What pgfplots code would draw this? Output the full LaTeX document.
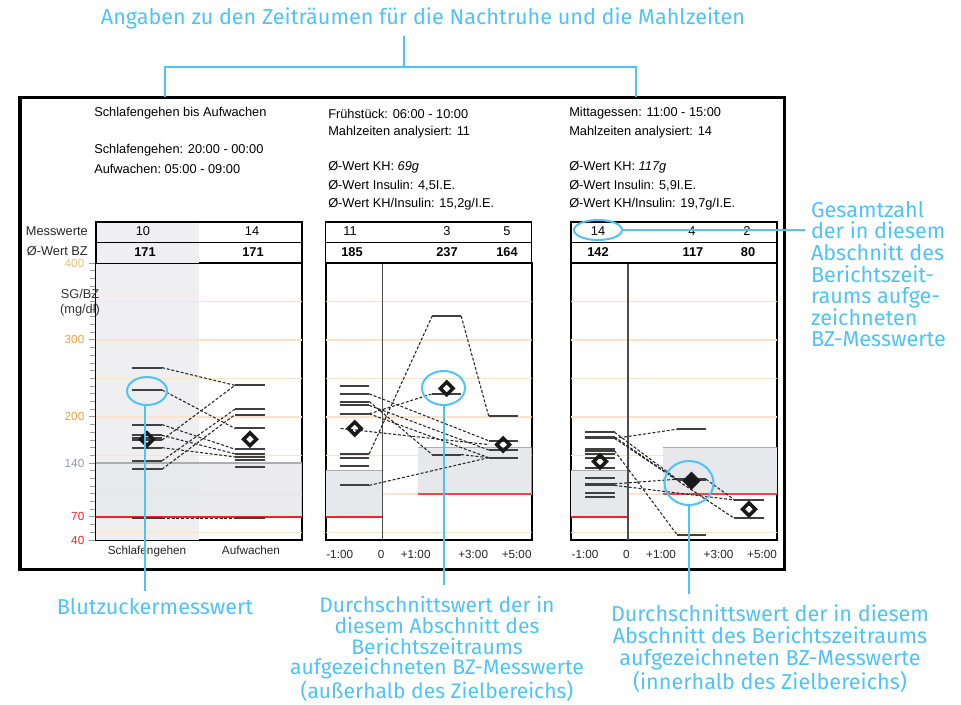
\documentclass[border=0pt]{standalone}
\usepackage{pgfplots}
\pgfplotsset{compat=1.18}
\usepackage{fontspec}
\setmainfont{Liberation Sans}
\newfontfamily\notefont{Fira Sans}

\definecolor{note}{HTML}{4FC3F7}
\definecolor{gridor}{HTML}{FAE3CA}
\definecolor{tickor}{HTML}{E9A23B}
\definecolor{tickgray}{HTML}{8E98AA}
\definecolor{lowred}{HTML}{F52222}
\definecolor{band}{HTML}{E7E8EB}
\definecolor{colshade}{HTML}{EFEFF2}
\definecolor{seg}{HTML}{404040}
\definecolor{bandtop}{HTML}{ADADAD}

\pgfplotsset{
  panel/.style={
    scale only axis, width=154.5pt, height=207.75pt,
    xmin=0, xmax=206, ymin=40, ymax=400,
    anchor=south west,
    axis line style={line width=1.5pt, draw=black},
    xtick pos=bottom, ytick pos=left,
    xtick style={draw=none},
    ticklabel style={font=\fontsize{8.8}{10}\selectfont, text=black!85},
  },
  measure/.style={only marks, mark=-, mark size=10.9pt,
    mark options={line width=1.5pt, draw=seg}},
  trend/.style={no marks, draw=black!85, line width=0.8pt,
    dash pattern=on 2.2pt off 1.4pt},
  avgout/.style={only marks, mark=square, mark size=3.4pt,
    mark options={rotate=45, line width=2.6pt, draw=black!90, fill=white}},
  avgin/.style={only marks, mark=square*, mark size=4.6pt,
    mark options={rotate=45, draw=black!90, fill=black!90}},
  gridthin/.style={no marks, draw=gridor, line width=0.8pt},
  gridthick/.style={no marks, draw=gridor, line width=1.5pt},
}
% dashed connection between two readings of the same day
\newcommand{\trend}[4]{\addplot[trend] coordinates {(#1,#2) (#3,#4)};}
% light orange reference lines every 50 mg/dl
\newcommand{\guides}{%
  \addplot[gridthin] coordinates {(0,50) (206,50)};
  \addplot[gridthick] coordinates {(0,100) (206,100)};
  \addplot[gridthin] coordinates {(0,150) (206,150)};
  \addplot[gridthick] coordinates {(0,200) (206,200)};
  \addplot[gridthin] coordinates {(0,250) (206,250)};
  \addplot[gridthick] coordinates {(0,300) (206,300)};
  \addplot[gridthin] coordinates {(0,350) (206,350)};
}
% meal panels: target 70-130 before, 100-160 after the meal
\newcommand{\mealtargets}{%
  \addplot[fill=band, draw=none] coordinates {(0,70) (57,70) (57,130) (0,130)};
  \addplot[no marks, draw=bandtop, line width=0.9pt] coordinates {(0,130) (57,130)};
  \addplot[no marks, draw=lowred, line width=1pt] coordinates {(0,70) (57,70)};
  \addplot[fill=band, draw=none] coordinates {(92,100) (206,100) (206,160) (92,160)};
  \addplot[no marks, draw=bandtop, line width=1.1pt] coordinates {(92,160) (206,160)};
  \addplot[no marks, draw=lowred!85, line width=1.4pt] coordinates {(92,100) (206,100)};
  \addplot[no marks, draw=black!70, line width=0.9pt] coordinates {(57,40) (57,400)};
}

\begin{document}
\begin{tikzpicture}
\begin{scope}[x=0.75pt, y=-0.75pt]
  \useasboundingbox (0,0) rectangle (961,704);
  \coordinate (P1) at (96,540);
  \coordinate (P2) at (325.7,540);
  \coordinate (P3) at (571,540);
\end{scope}

% ---------------- Schlafengehen / Aufwachen ----------------
\begin{axis}[panel, at={(P1)},
  ytick={40,70,140,200,300,400},
  yticklabels={{\color{lowred}40},{\color{lowred}70},{\color{tickgray}140},{\color{tickor}200},{\color{tickor}300},{\color{tickor!70}400}},
  minor ytick={50,60,...,390},
  tick align=outside,
  major tick length=5.25pt, minor tick length=4.5pt,
  ytick style={draw=black!40, line width=0.7pt},
  minor tick style={draw=black!40, line width=0.7pt},
  xtick={51,155}, xticklabels={Schlafengehen,Aufwachen},
  xticklabel style={yshift=4pt},
]
  \addplot[fill=colshade, draw=none] coordinates {(0,40) (103,40) (103,400) (0,400)};
  \guides
  \addplot[fill=band, draw=none, fill opacity=0.85] coordinates {(0,70) (206,70) (206,140) (0,140)};
  \addplot[no marks, draw=bandtop, line width=1.3pt] coordinates {(0,140) (206,140)};
  \addplot[no marks, draw=lowred, line width=1.1pt] coordinates {(0,70) (206,70)};

  \trend{66}{264}{139}{241}
  \trend{66}{235}{139}{185}
  \trend{66}{190}{139}{158}
  \trend{66}{176}{139}{152}
  \trend{66}{170}{139}{241}
  \trend{66}{160}{139}{148}
  \trend{66}{143}{139}{210}
  \trend{66}{132}{139}{203}
  \trend{66}{68}{139}{68}

  % Schlafengehen: 10 readings
  \addplot[measure] coordinates {(51,264) (51,235) (51,190) (51,176) (51,172)
    (51,170) (51,160) (51,143) (51,132) (51,68)};
  % Aufwachen: 14 readings
  \addplot[measure] coordinates {(154,241) (154,241) (154,241) (154,210) (154,203)
    (154,203) (154,185) (154,158) (154,152) (154,148) (154,144) (154,135) (154,68) (154,68)};
  \addplot[avgout] coordinates {(51,171) (154,171)};
\end{axis}

% ---------------- Fruehstueck ----------------
\begin{axis}[panel, at={(P2)}, ytick=\empty,
  xtick={14,55.5,90,147.5,191}, xticklabels={-1:00,0,+1:00,+3:00,+5:00},
  xticklabel style={yshift=-4.5pt},
]
  \guides
  \mealtargets

  \trend{43.5}{152}{106.5}{331}
  \trend{135.5}{331}{163}{201}
  \trend{43.5}{111}{163}{147}
  \trend{43.5}{230}{163}{169}
  \trend{43.5}{220}{106.5}{151}
  \trend{43.5}{215}{163}{157}
  \trend{43.5}{204}{106.5}{230}
  \trend{43.5}{204}{163}{147}
  \trend{15}{185}{163}{164}
  \trend{135.5}{151}{163}{147}

  \addplot[measure] coordinates {(29,240) (29,230) (29,220) (29,215) (29,204)
    (29,204) (29,152) (29,146) (29,136) (29,111)};
  \addplot[measure] coordinates {(121,331) (121,230) (121,151)};
  \addplot[measure] coordinates {(177.5,201) (177.5,169) (177.5,157) (177.5,147) (177.5,147)};
  \addplot[avgout] coordinates {(29,185) (121,237) (177.5,164)};
\end{axis}

% ---------------- Mittagessen ----------------
\begin{axis}[panel, at={(P3)}, ytick=\empty,
  xtick={14,55.5,90,147.5,191}, xticklabels={-1:00,0,+1:00,+3:00,+5:00},
  xticklabel style={yshift=-4.5pt},
]
  \guides
  \mealtargets

  \trend{43.5}{172}{106}{184}
  \trend{43.5}{180}{106}{119}
  \trend{43.5}{174}{106}{118}
  \trend{43.5}{156}{106}{47}
  \trend{43.5}{113}{106}{119}
  \trend{43.5}{111}{163.5}{92}
  \trend{43.5}{172}{163.5}{68}
  \trend{135}{119}{163.5}{92}

  \addplot[measure] coordinates {(29,180) (29,174) (29,172) (29,172) (29,158)
    (29,156) (29,152) (29,147) (29,134) (29,121) (29,113) (29,111) (29,101) (29,96)};
  \addplot[measure] coordinates {(120.5,184) (120.5,119) (120.5,118) (120.5,47)};
  \addplot[measure] coordinates {(178,92) (178,68)};
  \addplot[avgout] coordinates {(29,142) (178,80)};
  \addplot[avgin] coordinates {(120.5,117)};
\end{axis}

\begin{scope}[x=0.75pt, y=-0.75pt, font=\fontsize{9.6}{11}\selectfont]
  % outer frame
  \draw[line width=2.4pt] (20,97.5) rectangle (784.5,569.5);

  % summary tables
  \fill[colshade] (96,222) rectangle (199,263);
  \draw[line width=0.9pt] (96,222) rectangle (302,263.3);
  \draw[line width=0.9pt] (96,242.5) -- (302,242.5);
  \draw[line width=0.9pt] (325.7,222) rectangle (531.7,263.3);
  \draw[line width=0.9pt] (325.7,242.5) -- (531.7,242.5);
  \draw[line width=0.9pt] (571,222) rectangle (777,263.3);
  \draw[line width=0.9pt] (571,242.5) -- (777,242.5);

  \node[anchor=east, inner sep=0pt, text=black!85] at (88,231.5) {Messwerte};
  \node[anchor=east, inner sep=0pt, text=black!85] at (88,251.5) {Ø-Wert BZ};
  \node at (143,231.5) {10};
  \node at (252,231.5) {14};
  \node[font=\fontsize{9.6}{11}\selectfont\bfseries] at (145,252.5) {171};
  \node[font=\fontsize{9.6}{11}\selectfont\bfseries] at (253,252.5) {171};

  \node at (350,231.5) {11};
  \node at (447,231.5) {3};
  \node at (507,231.5) {5};
  \node[font=\fontsize{9.6}{11}\selectfont\bfseries] at (352,252.5) {185};
  \node[font=\fontsize{9.6}{11}\selectfont\bfseries] at (447,252.5) {237};
  \node[font=\fontsize{9.6}{11}\selectfont\bfseries] at (507,252.5) {164};

  \node at (598,231.5) {14};
  \node at (692,231.5) {4};
  \node at (747,231.5) {2};
  \node[font=\fontsize{9.6}{11}\selectfont\bfseries] at (598,252.5) {142};
  \node[font=\fontsize{9.6}{11}\selectfont\bfseries] at (693,252.5) {117};
  \node[font=\fontsize{9.6}{11}\selectfont\bfseries] at (748,252.5) {80};

  % axis title
  \node[text=black!80] at (80,294) {SG/BZ};
  \node[text=black!80] at (80,310) {(mg/dl)};

  % period headers
  \begin{scope}[every node/.style={anchor=west, inner sep=0pt}]
    \node at (94,113.5) {Schlafengehen bis Aufwachen};
    \node at (94,150) {Schlafengehen: 20:00 - 00:00};
    \node at (94,169) {Aufwachen:\ 05:00 - 09:00};

    \node at (328,113.5) {Frühstück: 06:00 - 10:00};
    \node at (328,132) {Mahlzeiten analysiert: 11};
    \node at (328,167.5) {Ø-Wert KH: \textit{69g}};
    \node at (328,186) {Ø-Wert Insulin: 4,5I.E.};
    \node at (328,204.5) {Ø-Wert KH/Insulin: 15,2g/I.E.};

    \node at (569,113.5) {Mittagessen: 11:00 - 15:00};
    \node at (569,132) {Mahlzeiten analysiert: 14};
    \node at (569,167.5) {Ø-Wert KH: \textit{117g}};
    \node at (569,186) {Ø-Wert Insulin: 5,9I.E.};
    \node at (569,204.5) {Ø-Wert KH/Insulin: 19,7g/I.E.};
  \end{scope}

  % explanatory callouts
  \begin{scope}[draw=note, line width=1.5pt, text=note,
      font=\notefont\fontsize{16.2}{16.2}\selectfont]
    \node at (423,18) {Angaben zu den Zeiträumen für die Nachtruhe und die Mahlzeiten};
    \draw (404,36) -- (404,67);
    \draw (165,97) -- (165,67) -- (636,67) -- (636,97);

    \draw (598,230) ellipse [x radius=24, y radius=10];
    \draw (622,230) -- (805,230);
    \node[anchor=north west, align=left, inner sep=0pt] at (810,200)
      {Gesamtzahl\\der in diesem\\Abschnitt des\\Berichtszeit-\\raums aufge-\\zeichneten\\BZ-Messwerte};

    \draw (147,391) ellipse [x radius=20, y radius=14];
    \draw (145,405) -- (145,591);
    \node at (155,607) {Blutzuckermesswert};

    \draw (443.5,388) ellipse [x radius=21.5, y radius=17];
    \draw (443.5,405) -- (443.5,585);
    \node[anchor=north, align=center, inner sep=0pt,
          font=\notefont\fontsize{15.8}{15.6}\selectfont] at (437,595)
      {Durchschnittswert der in\\diesem Abschnitt des\\Berichtszeitraums\\aufgezeichneten BZ-Messwerte\\(außerhalb des Zielbereichs)};

    \draw (689,483) ellipse [x radius=24.5, y radius=22];
    \draw (689,505) -- (689,594);
    \node[anchor=north, align=center, inner sep=0pt] at (770,604)
      {Durchschnittswert der in diesem\\Abschnitt des Berichtszeitraums\\aufgezeichneten BZ-Messwerte\\(innerhalb des Zielbereichs)};
  \end{scope}
\end{scope}
\end{tikzpicture}
\end{document}
